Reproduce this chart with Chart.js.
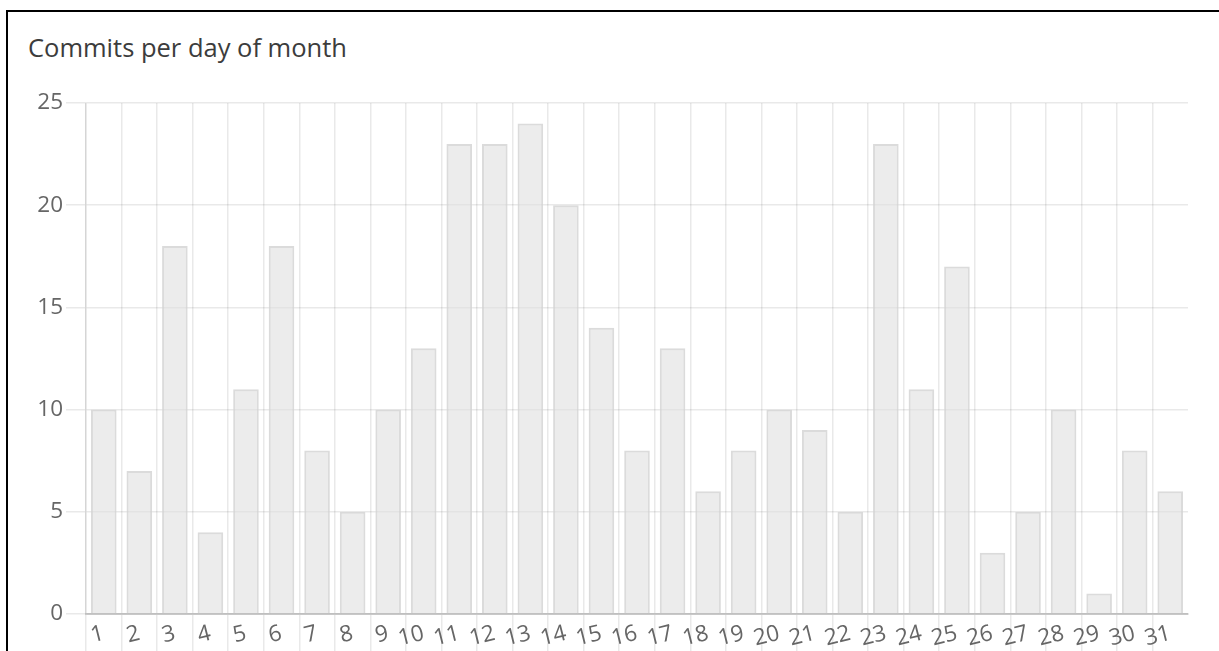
<!DOCTYPE html>
<html>
<head>
<meta charset="utf-8">
<title>Commits per day of month</title>
<script src="https://cdn.jsdelivr.net/npm/chart.js@4/dist/chart.umd.min.js"></script>
<style>
    html, body { margin: 0; padding: 0; background: #fff; overflow: hidden; }
    body { width: 1219px; height: 651px; position: relative; }
    .panel {
        position: absolute; left: 6px; top: 10px; width: 1211px; height: 700px;
        border-left: 2px solid #000; border-top: 2px solid #000; border-right: 1px solid #e8e8e8;
    }
    .panel-title {
        position: absolute; left: 28px; top: 30px;
        font: 25.5px "Open Sans", sans-serif; color: #3c3c3c; white-space: nowrap;
    }
    #commitsChart { position: absolute; left: 0; top: 0; }
</style>
</head>
<body>
<div class="panel"></div>
<div class="panel-title">Commits per day of month</div>
<canvas id="commitsChart" width="1219" height="651"></canvas>
<script>
// Days of the month and commit counts
const days = ['1', '2', '3', '4', '5', '6', '7', '8', '9', '10', '11', '12', '13', '14', '15', '16',
    '17', '18', '19', '20', '21', '22', '23', '24', '25', '26', '27', '28', '29', '30', '31'];
const commits = [10, 7, 18, 4, 11, 18, 8, 5, 10, 13, 23, 23, 24, 20, 14, 8,
    13, 6, 8, 10, 9, 5, 23, 11, 17, 3, 5, 10, 1, 8, 6];
const yTicks = [0, 5, 10, 15, 20, 25];

const gridColor = 'rgba(0,0,0,0.085)';
const tickFont = { family: '"Open Sans", sans-serif', size: 22.5 };

const ctx = document.getElementById('commitsChart').getContext('2d');
window.commitsChart = new Chart(ctx, {
    type: 'bar',
    data: {
        labels: days,
        datasets: [{
            label: 'Commits',
            data: commits,
            backgroundColor: 'rgba(220,220,220,0.55)',
            borderColor: 'rgba(210,210,210,0.8)',
            borderWidth: 2,
            barPercentage: 0.72,
            categoryPercentage: 1
        }]
    },
    options: {
        responsive: false,
        animation: false,
        layout: {
            padding: { top: 103, right: 31, bottom: 0, left: 0 }
        },
        plugins: {
            legend: { display: false },
            tooltip: { enabled: false }
        },
        scales: {
            x: {
                grid: {
                    offset: true,
                    // no line after the last day
                    color: c => c.type === 'tick' ? gridColor : 'transparent',
                    lineWidth: 1.5,
                    tickLength: 37
                },
                border: { color: 'rgba(0,0,0,0.18)', width: 2 },
                ticks: {
                    autoSkip: false,
                    minRotation: 14,
                    maxRotation: 14,
                    padding: -31,
                    color: '#666',
                    font: tickFont
                },
                afterFit: s => { s.height = 37; }
            },
            y: {
                min: 0,
                max: yTicks[yTicks.length - 1],
                afterBuildTicks: s => { s.ticks = yTicks.map(v => ({ value: v })); },
                grid: {
                    color: gridColor,
                    lineWidth: 1.5,
                    tickLength: 20
                },
                border: { color: gridColor, width: 1.5 },
                ticks: {
                    padding: 3,
                    color: '#666',
                    font: tickFont
                },
                afterFit: s => { s.width = 86; }
            }
        }
    }
});
</script>
</body>
</html>
